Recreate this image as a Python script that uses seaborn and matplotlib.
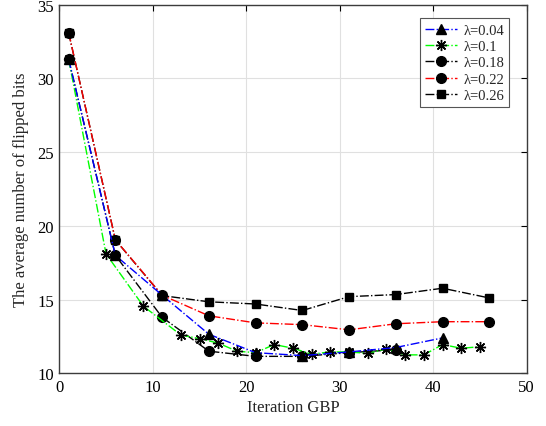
import numpy as np
import pandas as pd
import matplotlib
matplotlib.use("Agg")
import matplotlib.pyplot as plt
import seaborn as sns

# values
x_04 = [1, 6, 11, 16, 21, 26, 31, 36, 41]
y_04 = [31.3, 18.0, 15.3, 12.65, 11.4, 11.2, 11.45, 11.75, 12.4]

x_10 = [1, 5, 9, 13, 15, 17, 19, 21, 23, 25, 27, 29, 31, 33, 35, 37, 39, 41, 43, 45]
y_10 = [31.3, 18.1, 14.55, 12.6, 12.35, 12.05, 11.5, 11.4, 11.95, 11.7,
        11.3, 11.45, 11.45, 11.35, 11.65, 11.25, 11.25, 11.95, 11.7, 11.8]

x_18 = [1, 6, 11, 16, 21, 26, 31, 36]
y_18 = [31.3, 18.0, 13.8, 11.5, 11.15, 11.15, 11.4, 11.6]

x_22 = [1, 6, 11, 16, 21, 26, 31, 36, 41, 46]
y_22 = [33.1, 19.05, 15.3, 13.9, 13.42, 13.3, 12.95, 13.36, 13.5, 13.5]

x_26 = [1, 6, 11, 16, 21, 26, 31, 36, 41, 46]
y_26 = [33.1, 19.05, 15.27, 14.85, 14.7, 14.26, 15.2, 15.34, 15.77, 15.11]

labels = ["λ=0.04", "λ=0.1", "λ=0.18", "λ=0.22", "λ=0.26"]

sns.set_style("whitegrid")
plt.rcParams['font.family'] = ['Liberation Serif', 'DejaVu Serif']

fig = plt.figure(figsize=(5.46, 4.27), dpi=100)
ax = fig.add_axes([0.1086, 0.1234, 0.856, 0.8633])

series = [
    (x_04, y_04, labels[0], "#0000ff", "^", 7),
    (x_10, y_10, labels[1], "#00ff00", (8, 2, 0), 8),
    (x_18, y_18, labels[2], "black", "o", 7),
    (x_22, y_22, labels[3], "#ff0000", "o", 7),
    (x_26, y_26, labels[4], "black", "s", 6),
]

handles = {}
# draw in reverse so the markers stack as in the reference
for xs, ys, lab, col, mk, ms in reversed(series):
    df = pd.DataFrame({"x": xs, "y": ys})
    sns.lineplot(data=df, x="x", y="y", ax=ax, color=col, linestyle="-.",
                 linewidth=1.0, marker=mk, markersize=ms,
                 markerfacecolor="black", markeredgecolor="black",
                 markeredgewidth=1.0, label=lab, legend=False)
    handles[lab] = ax.lines[-1]

ax.set_xlim(0, 50)
ax.set_ylim(10, 35)
ax.set_xticks(np.arange(0, 51, 10))
ax.set_yticks(np.arange(10, 36, 5))
ax.grid(True, color="#e0e0e0", linewidth=0.8)
ax.set_axisbelow(True)

for sp in ax.spines.values():
    sp.set_visible(True)
    sp.set_color("#3c3c3c")
    sp.set_linewidth(1.0)

ax.tick_params(direction="in", length=4, width=0.8, top=True, right=True,
               labelsize=12, colors="black", pad=4)

ax.set_xlabel("Iteration GBP", fontsize=12, labelpad=3)
ax.set_ylabel("The average number of flipped bits", fontsize=12, labelpad=6)

leg = ax.legend([handles[l] for l in labels], labels, loc="upper right",
                bbox_to_anchor=(0.9628, 0.963), borderaxespad=0,
                fontsize=10.5, frameon=True,
                fancybox=False, framealpha=1, edgecolor="#555555",
                handlelength=2.2, labelspacing=0.22, borderpad=0.35,
                handletextpad=0.4)
leg.get_frame().set_linewidth(0.8)

fig.savefig("out.png", dpi=100)
